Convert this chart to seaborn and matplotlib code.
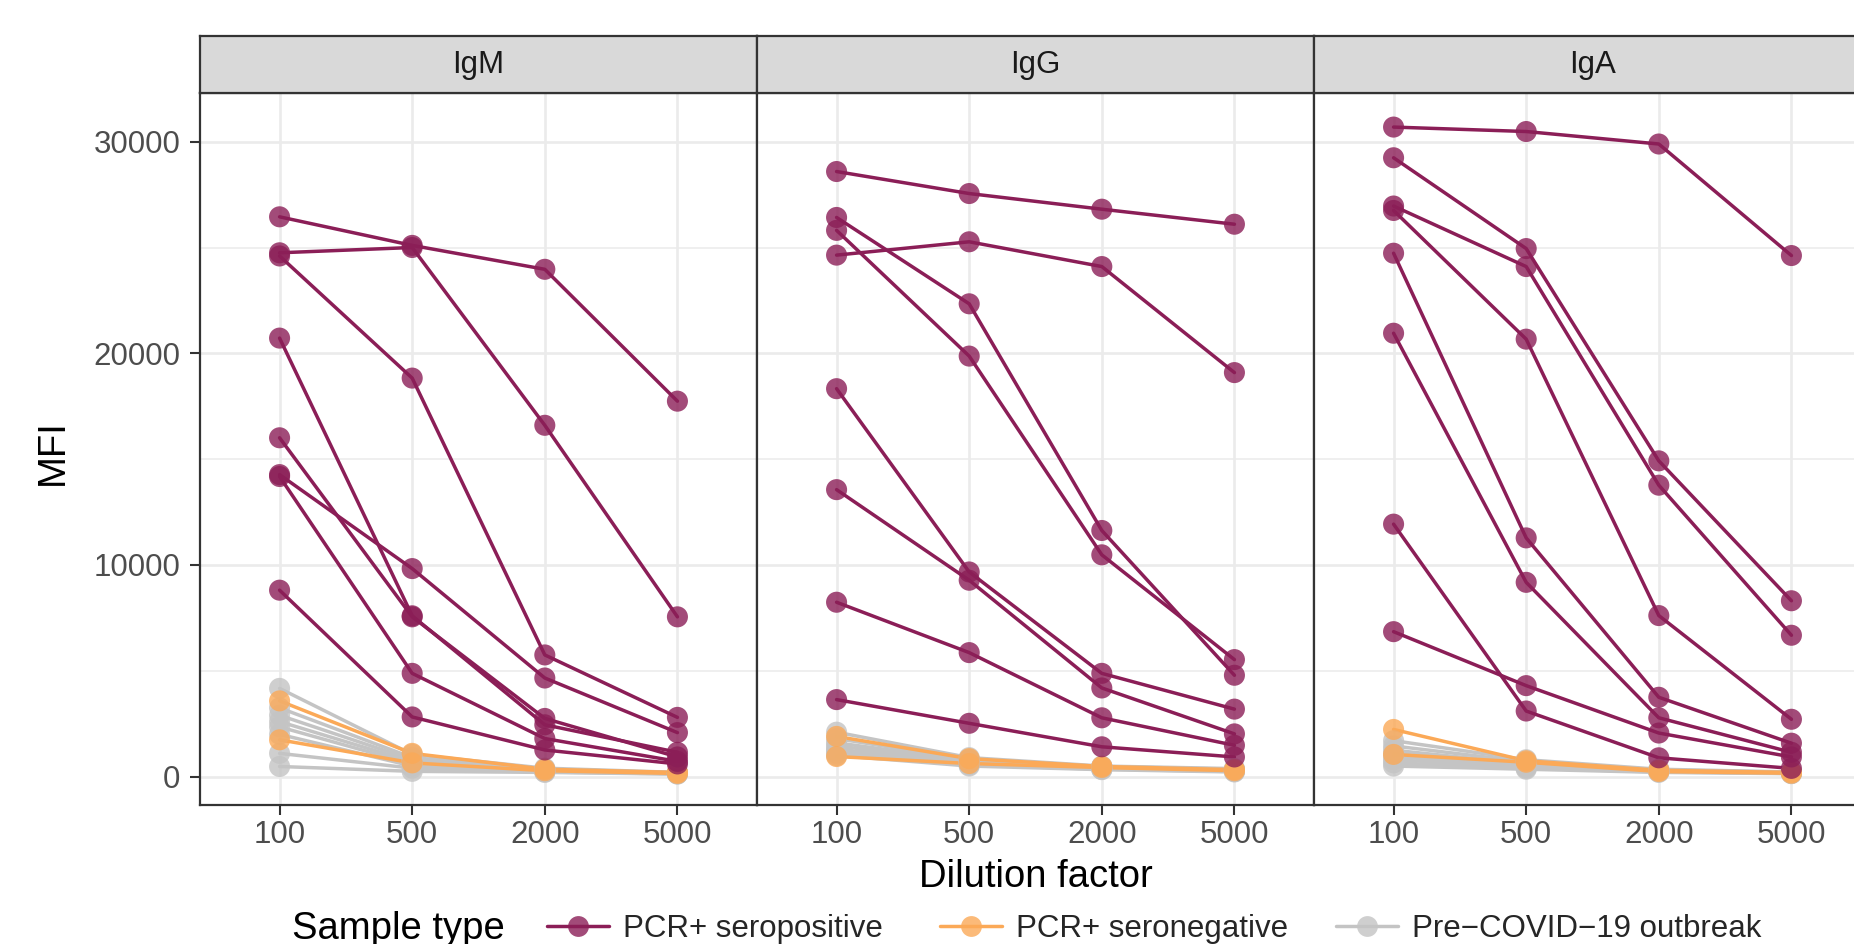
import numpy as np
import pandas as pd
import matplotlib
matplotlib.use("Agg")
import matplotlib.pyplot as plt
import seaborn as sns
from matplotlib.lines import Line2D
from matplotlib.colors import to_rgba

# ---------------- data ----------------
dilutions = ["100", "500", "2000", "5000"]
isotypes = ["IgM", "IgG", "IgA"]
sample_types = ["PCR+ seropositive", "PCR+ seronegative", "Pre\u2212COVID\u221219 outbreak"]
type_colors = ["#8B1E57", "#FBA957", "#C4C4C4"]

igm_seropositive = [
    [26450, 25100, 23970, 17740],
    [24750, 25000, 16600, 7550],
    [24600, 18830, 5750, 2800],
    [20720, 7600, 2450, 1150],
    [16010, 7550, 2750, 930],
    [14270, 9830, 4660, 2080],
    [14180, 4880, 1800, 720],
    [8810, 2820, 1260, 600],
]
igm_seronegative = [
    [3580, 1100, 350, 200],
    [1740, 650, 280, 150],
]
igm_precovid = [
    [4170, 1050, 400, 200],
    [3250, 900, 350, 180],
    [2900, 800, 320, 170],
    [2600, 700, 300, 160],
    [2350, 600, 280, 150],
    [2000, 500, 250, 140],
    [1100, 400, 220, 130],
    [480, 250, 200, 120],
]

igg_seropositive = [
    [28590, 27550, 26810, 26100],
    [24640, 25270, 24100, 19090],
    [26420, 22340, 11630, 4790],
    [25810, 19870, 10480, 5530],
    [18330, 9670, 4880, 3190],
    [13560, 9280, 4190, 2020],
    [8240, 5860, 2780, 1480],
    [3640, 2520, 1410, 930],
]
igg_seronegative = [
    [1900, 850, 480, 330],
    [950, 620, 430, 280],
]
igg_precovid = [
    [2100, 900, 500, 380],
    [1800, 800, 480, 350],
    [1600, 750, 450, 330],
    [1450, 700, 430, 300],
    [1300, 650, 400, 280],
    [1200, 600, 380, 260],
    [1100, 550, 350, 240],
    [1000, 500, 330, 220],
]

iga_seropositive = [
    [30690, 30480, 29890, 24620],
    [29240, 24950, 14920, 8310],
    [26960, 24100, 13770, 6680],
    [26750, 20670, 7610, 2710],
    [24730, 11280, 3750, 1580],
    [20950, 9180, 2780, 1150],
    [11930, 3100, 890, 390],
    [6850, 4300, 2060, 930],
]
iga_seronegative = [
    [2230, 750, 300, 200],
    [1050, 680, 240, 160],
]
iga_precovid = [
    [1700, 800, 350, 220],
    [1450, 700, 320, 200],
    [1250, 600, 300, 190],
    [1100, 550, 280, 180],
    [950, 500, 260, 170],
    [800, 450, 240, 160],
    [650, 400, 220, 150],
    [500, 350, 200, 140],
]

y_ticks = [0, 10000, 20000, 30000]
y_tick_labels = ["0", "10000", "20000", "30000"]

# ---------------- long table ----------------
series = {
    "IgM": [igm_precovid, igm_seronegative, igm_seropositive],
    "IgG": [igg_precovid, igg_seronegative, igg_seropositive],
    "IgA": [iga_precovid, iga_seronegative, iga_seropositive],
}
draw_order = [sample_types[2], sample_types[1], sample_types[0]]
rows = []
for iso in isotypes:
    for t, samples in zip(draw_order, series[iso]):
        for si, vals in enumerate(samples):
            for di, v in enumerate(vals):
                rows.append(dict(isotype=iso, type=t, sample=f"{t}_{si}",
                                 pos=di, MFI=v))
df = pd.DataFrame(rows)
palette = dict(zip(sample_types, type_colors))

# ---------------- style ----------------
sns.set_style("white")
plt.rcParams["font.family"] = ["Liberation Sans", "DejaVu Sans"]

W, H = 1854, 944
fig = plt.figure(figsize=(W / 100, H / 100), dpi=100)
fig.patch.set_facecolor("white")


def fx(px):
    return px / W


def fy(py):
    return 1 - py / H


panel_left = [200, 757, 1314]
panel_w = 557
p_top, p_bot = 93, 805
s_top = 36

tick_fs = 22.5
title_fs = 27.5
border_col = "#333333"
grid_col = "#EBEBEB"
line_w = 2.5

for i, iso in enumerate(isotypes):
    ax = fig.add_axes([fx(panel_left[i]), fy(p_bot), panel_w / W, (p_bot - p_top) / H])
    sub = df[df.isotype == iso]
    sns.lineplot(data=sub, x="pos", y="MFI", hue="type", hue_order=draw_order,
                 palette=palette, units="sample", estimator=None, sort=False,
                 legend=False, linewidth=line_w, ax=ax, zorder=2)
    sns.scatterplot(data=sub, x="pos", y="MFI", hue="type", palette=palette,
                    s=230, alpha=0.8, edgecolor="none", linewidth=0,
                    legend=False, ax=ax, zorder=3)
    ax.set_xlabel("")
    ax.set_ylabel("")
    ax.set_xlim(-0.6, 3.6)
    ax.set_ylim(-1340, 32300)
    ax.set_xticks(range(len(dilutions)))
    ax.set_xticklabels(dilutions)
    ax.set_yticks(y_ticks)
    ax.set_yticklabels(y_tick_labels)
    ax.set_yticks([5000, 15000, 25000], minor=True)
    ax.set_axisbelow(True)
    ax.grid(which="major", color=grid_col, lw=1.9)
    ax.grid(which="minor", axis="y", color=grid_col, lw=1.1)
    ax.tick_params(which="minor", length=0)
    ax.tick_params(which="major", length=7.5, width=1.5, color=border_col,
                   labelsize=tick_fs, labelcolor="#4D4D4D")
    ax.tick_params(axis="x", pad=3.0, bottom=True)
    ax.tick_params(axis="y", pad=6.5, left=(i == 0), labelleft=(i == 0))
    for sp in ax.spines.values():
        sp.set_visible(True)
        sp.set_color(border_col)
        sp.set_linewidth(1.6)

    st = fig.add_axes([fx(panel_left[i]), fy(p_top), panel_w / W, (p_top - s_top) / H])
    st.set_facecolor("#D9D9D9")
    st.set_xticks([])
    st.set_yticks([])
    for sp in st.spines.values():
        sp.set_visible(True)
        sp.set_color(border_col)
        sp.set_linewidth(1.6)
    st.text(0.5, 0.5, iso, transform=st.transAxes, ha="center", va="center",
            fontsize=tick_fs, color="#1A1A1A")

# axis titles
fig.text(fx(53), fy(452), "MFI", rotation=90, ha="center", va="center",
         fontsize=title_fs, color="black")
fig.text(fx(1036), fy(877), "Dilution factor", ha="center", va="center",
         fontsize=title_fs, color="black")

# legend
leg_y = 929
fig.text(fx(292), fy(leg_y), "Sample type", ha="left", va="center",
         fontsize=title_fs, color="black")
key_x = [547, 940, 1336]
for k, (lab, col) in enumerate(zip(sample_types, type_colors)):
    h = Line2D([], [], color=col, lw=line_w, marker="o", markersize=15,
               markerfacecolor=to_rgba(col, 0.8), markeredgewidth=0)
    fig.legend([h], [lab], loc="center left",
               bbox_to_anchor=(fx(key_x[k]), fy(leg_y)), frameon=False,
               fontsize=tick_fs, handlelength=62 / 31.2,
               handletextpad=14 / 31.2, borderpad=0, borderaxespad=0)

fig.savefig("out.png", dpi=100, facecolor="white")
